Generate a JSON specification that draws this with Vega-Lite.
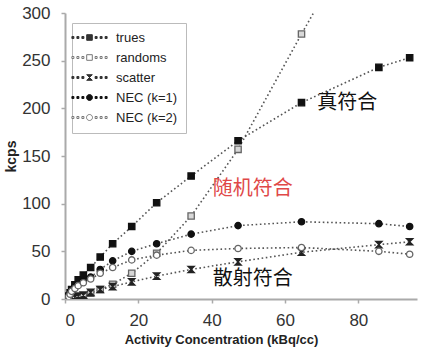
{
  "$schema": "https://vega.github.io/schema/vega-lite/v6.json",
  "width": 352,
  "height": 286,
  "autosize": "none",
  "padding": {"left": 65, "top": 13, "right": 4, "bottom": 53},
  "background": "white",
  "config": {"view": {"stroke": null}, "font": "Liberation Sans"},
  "datasets": {
    "pts": [
      {"x": 1.0, "kcps": 3, "series": "trues"},
      {"x": 1.4, "kcps": 6.6, "series": "trues"},
      {"x": 1.8, "kcps": 10, "series": "trues"},
      {"x": 2.7, "kcps": 15, "series": "trues"},
      {"x": 3.6, "kcps": 20, "series": "trues"},
      {"x": 5.0, "kcps": 25, "series": "trues"},
      {"x": 7.0, "kcps": 33, "series": "trues"},
      {"x": 9.6, "kcps": 44, "series": "trues"},
      {"x": 13.0, "kcps": 58, "series": "trues"},
      {"x": 18.2, "kcps": 76, "series": "trues"},
      {"x": 25.0, "kcps": 101, "series": "trues"},
      {"x": 34.4, "kcps": 129, "series": "trues"},
      {"x": 47.2, "kcps": 166, "series": "trues"},
      {"x": 64.5, "kcps": 206, "series": "trues"},
      {"x": 85.6, "kcps": 243, "series": "trues"},
      {"x": 94.0, "kcps": 253, "series": "trues"},
      {"x": 1.0, "kcps": 0.1, "series": "randoms"},
      {"x": 1.4, "kcps": 0.3, "series": "randoms"},
      {"x": 1.8, "kcps": 0.4, "series": "randoms"},
      {"x": 2.7, "kcps": 0.9, "series": "randoms"},
      {"x": 3.6, "kcps": 1.5, "series": "randoms"},
      {"x": 5.0, "kcps": 3, "series": "randoms"},
      {"x": 7.0, "kcps": 6, "series": "randoms"},
      {"x": 9.6, "kcps": 10, "series": "randoms"},
      {"x": 13.0, "kcps": 15.5, "series": "randoms"},
      {"x": 18.2, "kcps": 27, "series": "randoms"},
      {"x": 25.0, "kcps": 48, "series": "randoms"},
      {"x": 34.4, "kcps": 87, "series": "randoms"},
      {"x": 47.2, "kcps": 157, "series": "randoms"},
      {"x": 64.5, "kcps": 278, "series": "randoms"},
      {"x": 85.6, "kcps": 420, "series": "randoms"},
      {"x": 94.0, "kcps": 500, "series": "randoms"},
      {"x": 1.0, "kcps": 0.5, "series": "scatter"},
      {"x": 1.4, "kcps": 1, "series": "scatter"},
      {"x": 1.8, "kcps": 1.5, "series": "scatter"},
      {"x": 2.7, "kcps": 2, "series": "scatter"},
      {"x": 3.6, "kcps": 3, "series": "scatter"},
      {"x": 5.0, "kcps": 4, "series": "scatter"},
      {"x": 7.0, "kcps": 7, "series": "scatter"},
      {"x": 9.6, "kcps": 10, "series": "scatter"},
      {"x": 13.0, "kcps": 13, "series": "scatter"},
      {"x": 18.2, "kcps": 18, "series": "scatter"},
      {"x": 25.0, "kcps": 24, "series": "scatter"},
      {"x": 34.4, "kcps": 31, "series": "scatter"},
      {"x": 47.2, "kcps": 39, "series": "scatter"},
      {"x": 64.5, "kcps": 49, "series": "scatter"},
      {"x": 85.6, "kcps": 57, "series": "scatter"},
      {"x": 94.0, "kcps": 60, "series": "scatter"},
      {"x": 1.0, "kcps": 3, "series": "NEC (k=1)"},
      {"x": 1.4, "kcps": 6, "series": "NEC (k=1)"},
      {"x": 1.8, "kcps": 9, "series": "NEC (k=1)"},
      {"x": 2.7, "kcps": 13, "series": "NEC (k=1)"},
      {"x": 3.6, "kcps": 16, "series": "NEC (k=1)"},
      {"x": 5.0, "kcps": 19, "series": "NEC (k=1)"},
      {"x": 7.0, "kcps": 23, "series": "NEC (k=1)"},
      {"x": 9.6, "kcps": 31, "series": "NEC (k=1)"},
      {"x": 13.0, "kcps": 40, "series": "NEC (k=1)"},
      {"x": 18.2, "kcps": 50, "series": "NEC (k=1)"},
      {"x": 25.0, "kcps": 58, "series": "NEC (k=1)"},
      {"x": 34.4, "kcps": 68, "series": "NEC (k=1)"},
      {"x": 47.2, "kcps": 77, "series": "NEC (k=1)"},
      {"x": 64.5, "kcps": 81, "series": "NEC (k=1)"},
      {"x": 85.6, "kcps": 79, "series": "NEC (k=1)"},
      {"x": 94.0, "kcps": 76, "series": "NEC (k=1)"},
      {"x": 1.0, "kcps": 2.5, "series": "NEC (k=2)"},
      {"x": 1.4, "kcps": 5, "series": "NEC (k=2)"},
      {"x": 1.8, "kcps": 8, "series": "NEC (k=2)"},
      {"x": 2.7, "kcps": 11, "series": "NEC (k=2)"},
      {"x": 3.6, "kcps": 14, "series": "NEC (k=2)"},
      {"x": 5.0, "kcps": 17, "series": "NEC (k=2)"},
      {"x": 7.0, "kcps": 21, "series": "NEC (k=2)"},
      {"x": 9.6, "kcps": 27, "series": "NEC (k=2)"},
      {"x": 13.0, "kcps": 33, "series": "NEC (k=2)"},
      {"x": 18.2, "kcps": 41, "series": "NEC (k=2)"},
      {"x": 25.0, "kcps": 46, "series": "NEC (k=2)"},
      {"x": 34.4, "kcps": 51, "series": "NEC (k=2)"},
      {"x": 47.2, "kcps": 53, "series": "NEC (k=2)"},
      {"x": 64.5, "kcps": 54, "series": "NEC (k=2)"},
      {"x": 85.6, "kcps": 50, "series": "NEC (k=2)"},
      {"x": 94.0, "kcps": 47, "series": "NEC (k=2)"}
    ],
    "notes": [
      {"x": 68.8, "kcps": 206, "label": "真符合", "kind": "true"},
      {"x": 40.3, "kcps": 115, "label": "随机符合", "kind": "random"},
      {"x": 40.3, "kcps": 20.5, "label": "散射符合", "kind": "scatter"}
    ]
  },
  "encoding": {
    "x": {
      "field": "x", "type": "quantitative",
      "scale": {"domain": [0, 96], "nice": false, "zero": false},
      "axis": {
        "title": "Activity Concentration (kBq/cc)",
        "values": [0, 20, 40, 60, 80],
        "grid": false, "domainColor": "#aaaaaa", "domainWidth": 2,
        "tickColor": "#aaaaaa", "tickSize": 4, "tickWidth": 1.5,
        "labelFontSize": 17, "labelColor": "#333333", "labelPadding": 9,
        "titleFontSize": 13, "titleFontWeight": "bold", "titleColor": "#222222", "titlePadding": 5,
        "titleX": 156, "titleAnchor": "middle", "titleAlign": "center"
      }
    },
    "y": {
      "field": "kcps", "type": "quantitative",
      "scale": {"domain": [0, 300], "nice": false},
      "axis": {
        "title": "kcps",
        "values": [0, 50, 100, 150, 200, 250, 300],
        "grid": false, "domainColor": "#aaaaaa", "domainWidth": 2,
        "tickColor": "#aaaaaa", "tickSize": 4, "tickWidth": 1.5,
        "labelFontSize": 17, "labelColor": "#333333", "labelPadding": 11,
        "titleFontSize": 14, "titleFontWeight": "bold", "titleColor": "#222222", "titlePadding": 3
      }
    }
  },
  "layer": [
    {
      "mark": {"type": "rule", "color": "#bbbbbb", "strokeWidth": 2},
      "encoding": {"y": {"datum": 300}, "x": {"datum": 0}, "x2": {"datum": 96}}
    },
    {
      "data": {"name": "pts"},
      "mark": {"type": "line", "clip": true, "color": "#555555", "strokeWidth": 1.6, "strokeDash": [1.6, 2.6]},
      "encoding": {"detail": {"field": "series"}}
    },
    {
      "data": {"name": "pts"},
      "mark": {"type": "point", "clip": true, "filled": false, "size": 40, "strokeWidth": 1.3, "opacity": 1},
      "encoding": {
        "shape": {
          "field": "series", "type": "nominal", "legend": null,
          "scale": {
            "domain": ["trues", "randoms", "scatter", "NEC (k=1)", "NEC (k=2)"],
            "range": ["square", "square", "M-1,-1H1L-1,1H1Z", "circle", "circle"]
          }
        },
        "fill": {
          "field": "series", "type": "nominal", "legend": null,
          "scale": {
            "domain": ["trues", "randoms", "scatter", "NEC (k=1)", "NEC (k=2)"],
            "range": ["#111111", "#d8d8d8", "#222222", "#111111", "#ffffff"]
          }
        },
        "stroke": {
          "field": "series", "type": "nominal", "legend": null,
          "scale": {
            "domain": ["trues", "randoms", "scatter", "NEC (k=1)", "NEC (k=2)"],
            "range": ["#111111", "#666666", "#222222", "#111111", "#666666"]
          }
        }
      }
    },
    {
      "data": {"name": "pts"},
      "mark": {"type": "point", "clip": true, "filled": false, "opacity": 0, "size": 64, "strokeWidth": 1},
      "encoding": {
        "shape": {
          "field": "series", "type": "nominal",
          "scale": {
            "domain": ["trues", "randoms", "scatter", "NEC (k=1)", "NEC (k=2)"],
            "range": [
              "M-4.4,-0.25h0.5v0.5h-0.5zM-3.15,-0.25h0.5v0.5h-0.5zM-1.9,-0.25h0.5v0.5h-0.5zM1.4,-0.25h0.5v0.5h-0.5zM2.65,-0.25h0.5v0.5h-0.5zM3.9,-0.25h0.5v0.5h-0.5zM-0.7,-0.7h1.4v1.4h-1.4z",
              "M-4.4,-0.25h0.5v0.5h-0.5zM-3.15,-0.25h0.5v0.5h-0.5zM-1.9,-0.25h0.5v0.5h-0.5zM1.4,-0.25h0.5v0.5h-0.5zM2.65,-0.25h0.5v0.5h-0.5zM3.9,-0.25h0.5v0.5h-0.5zM-0.7,-0.7h1.4v1.4h-1.4z",
              "M-4.4,-0.25h0.5v0.5h-0.5zM-3.15,-0.25h0.5v0.5h-0.5zM-1.9,-0.25h0.5v0.5h-0.5zM1.4,-0.25h0.5v0.5h-0.5zM2.65,-0.25h0.5v0.5h-0.5zM3.9,-0.25h0.5v0.5h-0.5zM-0.7,-0.7h1.4l-1.4,1.4h1.4z",
              "M-4.4,-0.25h0.5v0.5h-0.5zM-3.15,-0.25h0.5v0.5h-0.5zM-1.9,-0.25h0.5v0.5h-0.5zM1.4,-0.25h0.5v0.5h-0.5zM2.65,-0.25h0.5v0.5h-0.5zM3.9,-0.25h0.5v0.5h-0.5zM-0.75,0a0.75,0.75 0 1,0 1.5,0a0.75,0.75 0 1,0 -1.5,0z",
              "M-4.4,-0.25h0.5v0.5h-0.5zM-3.15,-0.25h0.5v0.5h-0.5zM-1.9,-0.25h0.5v0.5h-0.5zM1.4,-0.25h0.5v0.5h-0.5zM2.65,-0.25h0.5v0.5h-0.5zM3.9,-0.25h0.5v0.5h-0.5zM-0.75,0a0.75,0.75 0 1,0 1.5,0a0.75,0.75 0 1,0 -1.5,0z"
            ]
          },
          "legend": {
            "title": null, "orient": "none", "legendX": 7, "legendY": 10,
            "strokeColor": "#bbbbbb", "fillColor": "#ffffff", "padding": 8,
            "symbolSize": 64, "symbolStrokeWidth": 1, "symbolOpacity": 1, "symbolOffset": 3,
            "labelFontSize": 13, "labelColor": "#222222", "labelOffset": 20, "rowPadding": 6
          }
        },
        "fill": {
          "field": "series", "type": "nominal",
          "scale": {
            "domain": ["trues", "randoms", "scatter", "NEC (k=1)", "NEC (k=2)"],
            "range": ["#333333", "#ffffff", "#333333", "#111111", "#ffffff"]
          }
        },
        "stroke": {
          "field": "series", "type": "nominal",
          "scale": {
            "domain": ["trues", "randoms", "scatter", "NEC (k=1)", "NEC (k=2)"],
            "range": ["#333333", "#777777", "#333333", "#111111", "#777777"]
          }
        }
      }
    },
    {
      "data": {"name": "notes"},
      "mark": {"type": "text", "align": "left", "baseline": "middle", "fontSize": 20, "font": "Noto Sans CJK SC"},
      "encoding": {
        "text": {"field": "label"},
        "color": {
          "field": "kind", "type": "nominal", "legend": null,
          "scale": {"domain": ["true", "random", "scatter"], "range": ["#111111", "#e04848", "#111111"]}
        }
      }
    },
    {
      "mark": {"type": "text", "align": "left", "baseline": "middle", "fontSize": 11, "color": "#999999", "clip": false, "font": "Noto Sans CJK SC"},
      "encoding": {"x": {"datum": 83}, "y": {"datum": -42}, "text": {"value": "核医之窗"}}
    }
  ],
  "resolve": {
    "scale": {"shape": "independent", "fill": "independent", "stroke": "independent", "color": "independent"},
    "legend": {"shape": "independent", "fill": "independent", "stroke": "independent"}
  }
}
